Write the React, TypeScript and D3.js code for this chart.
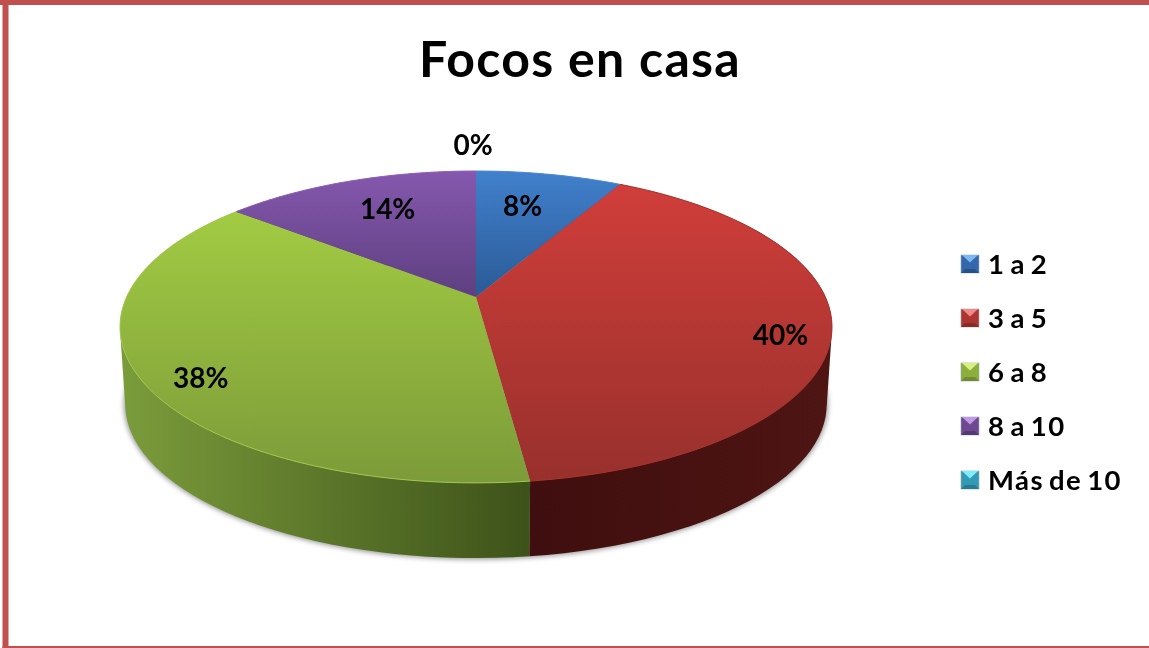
import { useEffect, useRef } from 'react'
import * as d3 from 'd3'

const title = 'Focos en casa'
const categories = ['1 a 2', '3 a 5', '6 a 8', '8 a 10', 'Más de 10']
const percents = [8, 40, 38, 14, 0]

// top, bottom of the face, then the swatch's light bevel
const faceTop = ['#4180cc', '#d03e3a', '#a2cb43', '#8558ae', '#3fb5d0']
const faceBottom = ['#2a5a96', '#98302c', '#7c9b39', '#5e3f80', '#2a8aa0']
const bevel = ['#7fb8f0', '#f08a86', '#d8f080', '#c09ae4', '#7fecfc']
const rim = ['#4f8dd6', '#a8352f', '#a4c950', '#8f64b8', '#3fb5d0']
const sideLeft = ['#2a5a96', '#3f0e0e', '#7b9c3b', '#5e3f80', '#2a8aa0']
const sideRight = ['#2a5a96', '#4e1513', '#3d5219', '#5e3f80', '#2a8aa0']

// label placement: radius factor along the slice middle, plus a nudge
const labelRadius = [0.71, 0.86, 0.83, 0.73, 1.2]
const labelNudge = [[-8, 0], [0, 13], [0, 16], [8, 0], [-3, -5]]

export default function App() {
  const svgRef = useRef<SVGSVGElement>(null)

  useEffect(() => {
    const width = 1149
    const height = 648
    const svg = d3.select(svgRef.current)
      .attr('width', width)
      .attr('height', height)
      .style('position', 'fixed')
      .style('left', 0)
      .style('top', 0)
      .style('background', '#fff')
    svg.selectAll('*').remove()

    // perspective projection of the pie disc
    const cx = 476
    const cy = 297
    const A = 349.4
    const B = 150.2
    const k = 0.192
    const depth = 78
    const baseScale = 0.985

    const project = (a: number, r = 1): [number, number] => {
      const u = Math.sin(a) * r
      const v = Math.cos(a) * r
      const w = 1 + k * v
      return [cx + (A * u) / w, cy - (B * v) / w]
    }
    const projectBase = (a: number): [number, number] => {
      const [x, y] = project(a)
      return [cx + (x - cx) * baseScale, cy + (y - cy) * baseScale + depth]
    }

    const arcs = d3.pie<number>().sort(null)(percents)
    const drawn = arcs.filter(d => d.endAngle > d.startAngle)
    const line = d3.line()
    const steps = (d: d3.PieArcDatum<number>) =>
      d3.range(0, 61).map(i => d.startAngle + ((d.endAngle - d.startAngle) * i) / 60)

    const defs = svg.append('defs')
    defs.append('filter').attr('id', 'soft')
      .attr('color-interpolation-filters', 'sRGB')
      .append('feGaussianBlur').attr('stdDeviation', 0.5)
    defs.append('filter').attr('id', 'shadow')
      .attr('color-interpolation-filters', 'sRGB')
      .attr('x', '-10%').attr('y', '-10%').attr('width', '120%').attr('height', '120%')
      .append('feGaussianBlur').attr('stdDeviation', 2.5)

    arcs.forEach((d, i) => {
      const face = defs.append('linearGradient').attr('id', `face${i}`)
        .attr('x1', 0).attr('y1', 0).attr('x2', 0).attr('y2', 1)
      face.append('stop').attr('offset', 0).attr('stop-color', faceTop[i])
      face.append('stop').attr('offset', 1).attr('stop-color', faceBottom[i])
      const side = defs.append('linearGradient').attr('id', `side${i}`)
        .attr('x1', 0).attr('y1', 0).attr('x2', 1).attr('y2', 0)
      side.append('stop').attr('offset', 0).attr('stop-color', sideLeft[i])
      side.append('stop').attr('offset', 1).attr('stop-color', sideRight[i])
    })

    const g = svg.append('g').attr('filter', 'url(#soft)')

    // frame
    g.append('rect').attr('x', 0).attr('y', 0).attr('width', width).attr('height', 5).attr('fill', '#c0504d')
    g.append('rect').attr('x', 2.5).attr('y', 0).attr('width', 6).attr('height', height).attr('fill', '#c0504d')
    g.append('rect').attr('x', 2.5).attr('y', height - 2).attr('width', width).attr('height', 2).attr('fill', '#c0504d')

    // title
    g.append('text')
      .attr('x', 580).attr('y', 77)
      .attr('text-anchor', 'middle')
      .attr('font-family', 'Lato')
      .attr('font-weight', 700)
      .attr('font-size', 50)
      .attr('letter-spacing', 1.3)
      .attr('fill', '#000')
      .text(title)

    // soft shadow around the base
    const ring = d3.range(0, 121).map(i => projectBase((i / 120) * 2 * Math.PI))
    g.append('path')
      .attr('d', line(ring) + 'Z')
      .attr('fill', '#777')
      .attr('stroke', '#777')
      .attr('stroke-width', 3)
      .attr('opacity', 0.75)
      .attr('filter', 'url(#shadow)')

    // side walls
    drawn.forEach(d => {
      const pts = steps(d)
      const hull = d3.polygonHull([...pts.map(a => project(a)), ...pts.map(a => projectBase(a))])
      g.append('path').attr('d', line(hull!) + 'Z').attr('fill', `url(#side${d.index})`)
    })

    // top faces
    drawn.forEach(d => {
      const top = [[cx, cy] as [number, number], ...steps(d).map(a => project(a))]
      g.append('path').attr('d', line(top) + 'Z').attr('fill', `url(#face${d.index})`)
      g.append('path')
        .attr('d', line(steps(d).map(a => project(a))))
        .attr('fill', 'none')
        .attr('stroke', rim[d.index])
        .attr('stroke-width', 1)
    })

    // percent labels
    arcs.forEach((d, i) => {
      const [x, y] = project((d.startAngle + d.endAngle) / 2, labelRadius[i])
      g.append('text')
        .attr('x', x + labelNudge[i][0])
        .attr('y', y + labelNudge[i][1])
        .attr('dy', '0.35em')
        .attr('text-anchor', 'middle')
        .attr('font-family', 'Lato')
        .attr('font-weight', 700)
        .attr('font-size', 28)
        .attr('fill', '#000')
        .text(`${percents[i]}%`)
    })

    // legend
    const legendY = d3.scalePoint<string>().domain(categories).range([264, 480])
    const s = 18
    categories.forEach((c, i) => {
      const y0 = legendY(c)! - s / 2
      const item = g.append('g').attr('transform', `translate(961,${y0})`)
      item.append('rect').attr('width', s).attr('height', s)
        .attr('fill', d3.interpolateRgb(faceTop[i], faceBottom[i])(0.6))
        .attr('stroke', '#9aa').attr('stroke-width', 0.6)
      item.append('path').attr('d', line([[0, s], [s, s], [s - 4, s - 4], [4, s - 4]]) + 'Z').attr('fill', d3.color(faceBottom[i])!.darker(0.3).formatHex())
      item.append('path').attr('d', line([[1, 0], [s - 1, 0], [s / 2, s * 0.42]]) + 'Z').attr('fill', bevel[i])
      g.append('text')
        .attr('x', 988)
        .attr('y', legendY(c)!)
        .attr('dy', '0.36em')
        .attr('font-family', 'Lato')
        .attr('font-weight', 700)
        .attr('font-size', 27.5)
        .attr('letter-spacing', 1.4)
        .attr('word-spacing', -3)
        .attr('fill', '#000')
        .text(c)
    })
  }, [])

  return <svg ref={svgRef}></svg>
}
